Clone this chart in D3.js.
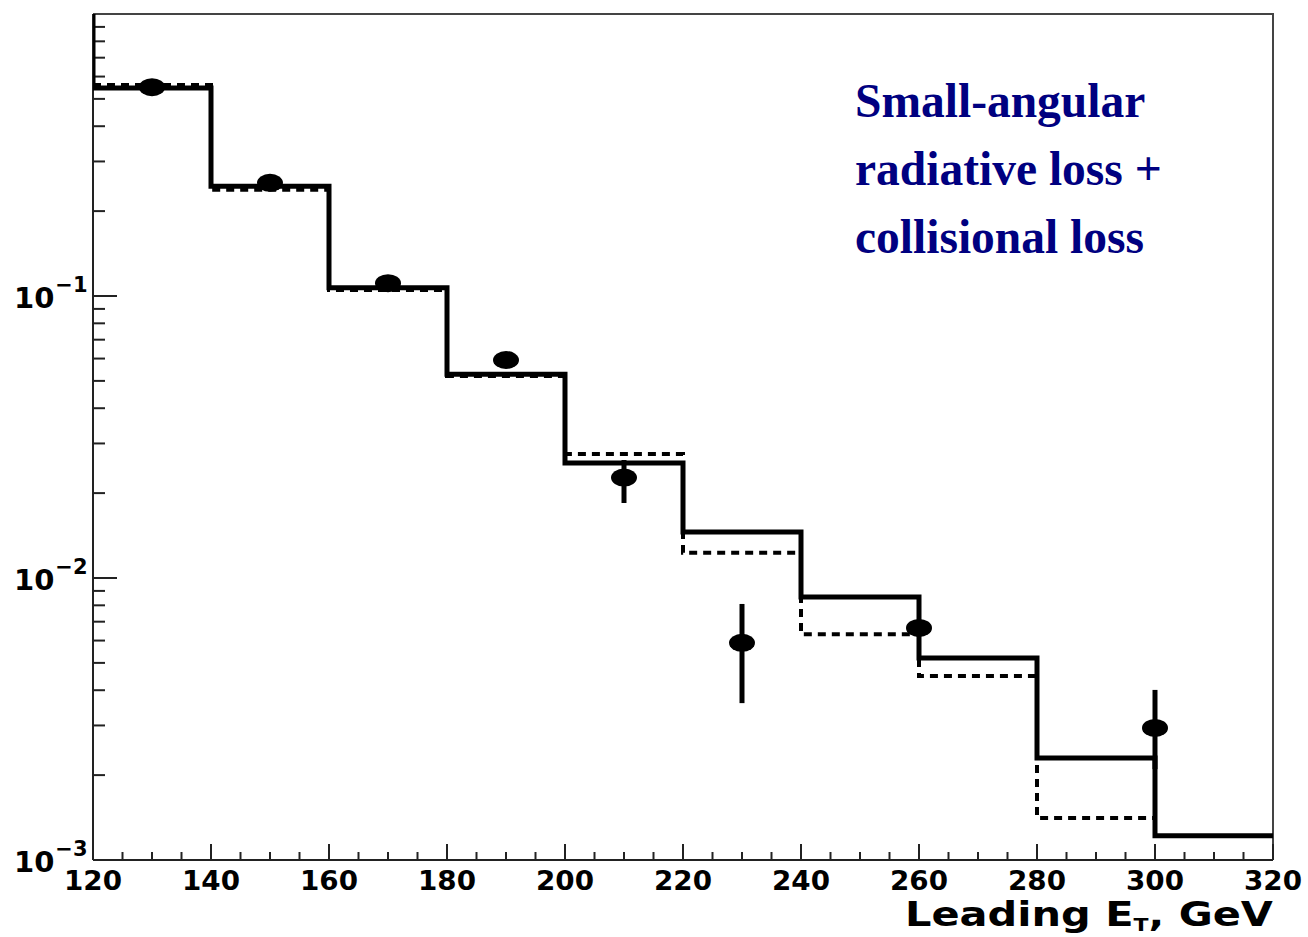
<!DOCTYPE html>
<html>
<head>
<meta charset="utf-8">
<script src="https://cdn.jsdelivr.net/npm/d3@7"></script>
<style>
  body { margin: 0; background: #fff; }
  svg { display: block; }
</style>
</head>
<body>
<div id="my_dataviz"></div>
<script>
// bin edges and contents
var binEdges = [120, 140, 160, 180, 200, 220, 240, 260, 280, 300, 320];
var solidValues = [0.547, 0.245, 0.107, 0.0528, 0.0256, 0.01456, 0.00857, 0.0052, 0.0023, 0.00122];
var dashedValues = [0.56, 0.238, 0.105, 0.052, 0.0275, 0.01228, 0.00632, 0.00449, 0.00141];
// data points
var pointX = [130, 150, 170, 190, 210, 230, 260, 300];
var pointY = [0.55, 0.252, 0.111, 0.0593, 0.0227, 0.00589, 0.00665, 0.00294];
var pointLo = [null, null, null, null, 0.01845, 0.0036, null, 0.0021];
var pointHi = [null, null, null, null, 0.0262, 0.00809, null, 0.00401];
var xTicks = [120, 140, 160, 180, 200, 220, 240, 260, 280, 300, 320];
var yTicks = [1e-3, 1e-2, 1e-1];
var yTickExp = ["-3", "-2", "-1"];
var textLines = ["Small-angular", "radiative loss +", "collisional loss"];

var margin = {top: 14, right: 35, bottom: 77, left: 93},
    width = 1308 - margin.left - margin.right,
    height = 937 - margin.top - margin.bottom;

var svg = d3.select("#my_dataviz")
  .append("svg")
    .attr("width", 1308)
    .attr("height", 937)
  .append("g")
    .attr("transform", "translate(" + margin.left + "," + margin.top + ")");

var x = d3.scaleLinear().domain([120, 320]).range([0, width]);
var y = d3.scaleLog().domain([1e-3, 1]).range([height, 0]);

// frame (top and right)
svg.append("path")
  .attr("d", "M0,0H" + width + "V" + height)
  .attr("fill", "none")
  .attr("stroke", "#444")
  .attr("stroke-width", 2);

// x axis with inward ticks
var minorX = d3.range(120, 321, 5).filter(function(d) { return d % 20 != 0; });
var xg = svg.append("g").attr("transform", "translate(0," + height + ")");
xg.append("line").attr("x1", 0).attr("x2", width)
  .attr("stroke", "#222").attr("stroke-width", 2);
xg.selectAll(".maj").data(xTicks).enter().append("line")
  .attr("x1", function(d) { return x(d); }).attr("x2", function(d) { return x(d); })
  .attr("y1", 0).attr("y2", -16)
  .attr("stroke", "#222").attr("stroke-width", 2);
xg.selectAll(".min").data(minorX).enter().append("line")
  .attr("x1", function(d) { return x(d); }).attr("x2", function(d) { return x(d); })
  .attr("y1", 0).attr("y2", -8)
  .attr("stroke", "#222").attr("stroke-width", 2);
xg.selectAll(".lab").data(xTicks).enter().append("text")
  .attr("x", function(d) { return x(d); })
  .attr("y", 30)
  .attr("text-anchor", "middle")
  .attr("textLength", 58)
  .attr("lengthAdjust", "spacingAndGlyphs")
  .style("font-family", "DejaVu Sans")
  .style("font-weight", "bold")
  .style("font-size", "26px")
  .text(function(d) { return d; });

// x axis title
var title = svg.append("text")
  .attr("x", 905 - margin.left)
  .attr("y", 926 - margin.top)
  .attr("textLength", 368)
  .attr("lengthAdjust", "spacingAndGlyphs")
  .style("font-family", "DejaVu Sans")
  .style("font-weight", "bold")
  .style("font-size", "34px");
title.append("tspan").text("Leading E");
title.append("tspan").attr("dy", 5).style("font-size", "18px").text("T");
title.append("tspan").attr("dy", -5).text(", GeV");

// y axis with inward ticks
var minorY = [];
[1e-3, 1e-2, 1e-1].forEach(function(dec) {
  for (var k = 2; k <= 9; k++) minorY.push(dec * k);
});
var yg = svg.append("g");
yg.append("line").attr("y1", 0).attr("y2", height)
  .attr("stroke", "#222").attr("stroke-width", 2);
yg.selectAll(".maj").data(yTicks).enter().append("line")
  .attr("y1", function(d) { return y(d); }).attr("y2", function(d) { return y(d); })
  .attr("x1", 0).attr("x2", 24)
  .attr("stroke", "#222").attr("stroke-width", 2);
yg.selectAll(".min").data(minorY).enter().append("line")
  .attr("y1", function(d) { return y(d); }).attr("y2", function(d) { return y(d); })
  .attr("x1", 0).attr("x2", 12)
  .attr("stroke", "#222").attr("stroke-width", 2);
var ylab = yg.selectAll(".lab").data(yTicks).enter().append("text")
  .attr("x", -79)
  .attr("y", function(d) { return y(d) + 12; })
  .style("font-family", "DejaVu Sans")
  .style("font-weight", "bold")
  .style("font-size", "29px");
ylab.append("tspan").text("10");
ylab.append("tspan").attr("dy", -16).attr("dx", 1).style("font-size", "21px")
  .text(function(d, i) { return yTickExp[i].replace("-", "\u2212"); });

// clip to frame
svg.append("clipPath").attr("id", "clip")
  .append("rect").attr("x", 0).attr("y", 0).attr("width", width).attr("height", height);

function stepPath(vals, fromTop) {
  var p = d3.path();
  if (fromTop) {
    p.moveTo(x(binEdges[0]), y(1));
    p.lineTo(x(binEdges[0]), y(vals[0]));
  } else {
    p.moveTo(x(binEdges[0]), y(vals[0]));
  }
  for (var i = 0; i < vals.length; i++) {
    if (i > 0) p.lineTo(x(binEdges[i]), y(vals[i]));
    p.lineTo(x(binEdges[i + 1]), y(vals[i]));
  }
  return p.toString();
}

var plot = svg.append("g").attr("clip-path", "url(#clip)");

plot.append("path")
  .attr("d", stepPath(dashedValues, false))
  .attr("fill", "none")
  .attr("stroke", "#000")
  .attr("stroke-width", 4)
  .attr("stroke-dasharray", "8,6");

plot.append("path")
  .attr("d", stepPath(solidValues, true))
  .attr("fill", "none")
  .attr("stroke", "#000")
  .attr("stroke-width", 5);

// error bars
var pts = pointX.map(function(d, i) {
  return {x: d, y: pointY[i], lo: pointLo[i], hi: pointHi[i]};
});
plot.selectAll(".err").data(pts.filter(function(d) { return d.lo != null; }))
  .enter().append("line")
  .attr("x1", function(d) { return x(d.x); }).attr("x2", function(d) { return x(d.x); })
  .attr("y1", function(d) { return y(d.hi); }).attr("y2", function(d) { return y(d.lo); })
  .attr("stroke", "#000").attr("stroke-width", 5);

plot.selectAll(".pt").data(pts).enter().append("ellipse")
  .attr("cx", function(d) { return x(d.x); })
  .attr("cy", function(d) { return y(d.y); })
  .attr("rx", 13).attr("ry", 9)
  .attr("fill", "#000");

// annotation
svg.selectAll(".note").data(textLines).enter().append("text")
  .attr("x", 855 - margin.left)
  .attr("y", function(d, i) { return 117 - margin.top + i * 68; })
  .style("font-family", "Liberation Serif")
  .style("font-weight", "bold")
  .style("font-size", "47.5px")
  .attr("fill", "#000080")
  .text(function(d) { return d; });
</script>
</body>
</html>
